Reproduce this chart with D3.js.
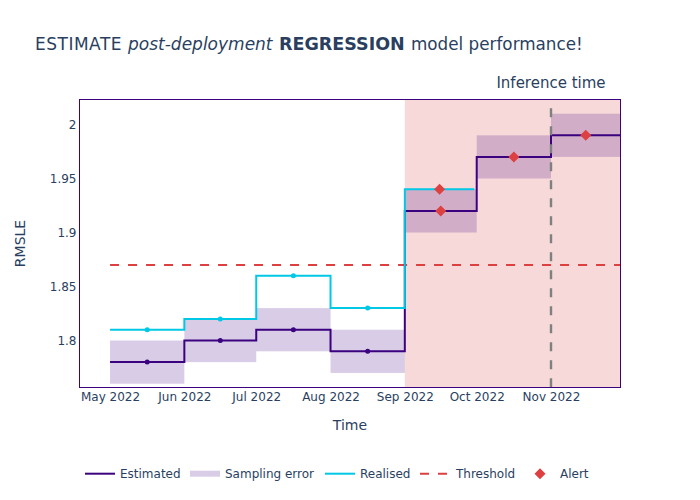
<!DOCTYPE html>
<html><head><meta charset="utf-8">
<script src="https://cdn.jsdelivr.net/npm/d3@7"></script>
<style>html,body{margin:0;padding:0;background:#fff}svg{display:block}text{font-family:"DejaVu Sans",sans-serif;fill:#2a3f5f}</style>
</head><body><svg id="c" width="700" height="500"></svg>
<script>
const periodEdges = ["2022-05-01","2022-06-01","2022-07-01","2022-08-01","2022-09-01","2022-10-01","2022-11-01","2022-11-30"];
const estimated = [1.78,1.80,1.81,1.79,1.92,1.97,1.99];
const lower = [1.76,1.78,1.79,1.77,1.90,1.95,1.97];
const upper = [1.80,1.82,1.83,1.81,1.94,1.99,2.01];
const realisedEdges = ["2022-05-01","2022-06-01","2022-07-01","2022-08-01","2022-09-01","2022-09-30"];
const realised = [1.81,1.82,1.86,1.83,1.94];
const threshold = 1.87;
const estimatedAlerts = [4,5,6];
const realisedAlerts = [4];
const alertStart = "2022-09-01";
const inferenceStart = "2022-11-01";
const inferenceTop = 2.015;
const xTicks = ["2022-05-01","2022-06-01","2022-07-01","2022-08-01","2022-09-01","2022-10-01","2022-11-01"];
const yTicks = [1.8,1.85,1.9,1.95,2];
const xDomain = ["2022-04-18T06:00:00Z","2022-11-30T00:00:00Z"];
const yDomain = [1.7565,2.02315];
const colors = {est:"#3b0280",real:"#00c8e5",red:"#dd4040",band:"#3b0280",alert:"#dd4040",grey:"#808080",text:"#2a3f5f"};
const legendItems = ["Estimated","Sampling error","Realised","Threshold","Alert"];

const d = s => new Date(s.length>10 ? s : s+"T00:00:00Z");
const L=79.5,R=620.5,T=99.5,B=387.5;
const x=d3.scaleUtc().domain(xDomain.map(d)).range([L,R]);
const y=d3.scaleLinear().domain(yDomain).range([B,T]);
const svg=d3.select("#c");
const mid=(a,b)=>new Date((d(a).getTime()+d(b).getTime())/2);

// alert region
svg.append("rect").attr("x",x(d(alertStart))).attr("y",T).attr("width",R-x(d(alertStart))).attr("height",B-T)
  .attr("fill",colors.alert).attr("fill-opacity",0.2);
// sampling bands
svg.append("g").selectAll("rect").data(estimated).join("rect")
  .attr("x",(v,i)=>x(d(periodEdges[i]))).attr("width",(v,i)=>x(d(periodEdges[i+1]))-x(d(periodEdges[i])))
  .attr("y",(v,i)=>y(upper[i])).attr("height",(v,i)=>y(lower[i])-y(upper[i]))
  .attr("fill",colors.band).attr("fill-opacity",0.2);
// threshold
const line=d3.line().x(p=>x(p[0])).y(p=>y(p[1]));
svg.append("path").attr("d",line([[d(periodEdges[0]),threshold],[d(xDomain[1]),threshold]]))
  .attr("fill","none").attr("stroke",colors.red).attr("stroke-width",2).attr("stroke-dasharray","9,9");
// step lines
const steps=(vals,edges)=>vals.flatMap((v,i)=>[[d(edges[i]),v],[d(edges[i+1]),v]]);
svg.append("path").attr("d",line(steps(estimated,periodEdges))).attr("fill","none").attr("stroke",colors.est).attr("stroke-width",2);
svg.append("path").attr("d",line(steps(realised,realisedEdges))).attr("fill","none").attr("stroke",colors.real).attr("stroke-width",2);
// inference marker
svg.append("path").attr("d",line([[d(inferenceStart),inferenceTop],[d(inferenceStart),yDomain[0]]]))
  .attr("fill","none").attr("stroke",colors.grey).attr("stroke-width",2.4).attr("stroke-dasharray","9,9");
// period dots
const dots=(vals,edges,c)=>svg.append("g").selectAll("circle").data(vals).join("circle")
  .attr("cx",(v,i)=>x(mid(edges[i],edges[i+1]))).attr("cy",v=>y(v)).attr("r",2.5).attr("fill",c);
dots(estimated,periodEdges,colors.est);
dots(realised,realisedEdges,colors.real);
// alerts
const diamondPath="M-5.5,0L0,-5.5L5.5,0L0,5.5Z";
const alerts=(idx,vals,edges)=>svg.append("g").selectAll("path").data(idx).join("path")
  .attr("d",diamondPath).attr("fill",colors.alert)
  .attr("transform",i=>`translate(${x(mid(edges[i],edges[i+1]))},${y(vals[i])})`);
alerts(realisedAlerts,realised,realisedEdges);
alerts(estimatedAlerts,estimated,periodEdges);
// frame
svg.append("rect").attr("x",L).attr("y",T).attr("width",R-L).attr("height",B-T).attr("fill","none").attr("stroke",colors.est).attr("stroke-width",1);
// axes
const xAxis=d3.axisBottom(x).tickValues(xTicks.map(d)).tickSize(0).tickPadding(5).tickFormat(d3.utcFormat("%b %Y"));
const gx=svg.append("g").attr("transform",`translate(0,${B})`).call(xAxis);
const yAxis=d3.axisLeft(y).tickValues(yTicks).tickSize(0).tickPadding(3).tickFormat(d3.format("~g"));
const gy=svg.append("g").attr("transform",`translate(${L},0)`).call(yAxis);
for(const g of [gx,gy]){g.select(".domain").remove();g.selectAll("text").style("font-size","12px").style("font-family",'"DejaVu Sans",sans-serif').attr("fill",colors.text);}
// titles
const t=svg.append("text").attr("y",50).style("font-size","17px");
t.append("tspan").attr("x",35).style("letter-spacing","0.5px").text("ESTIMATE");
t.append("tspan").attr("x",128).style("font-style","italic").text("post-deployment");
t.append("tspan").attr("x",279).style("font-weight","bold").style("font-size","17.5px").text("REGRESSION");
t.append("tspan").attr("x",411).style("font-size","16.8px").text("model performance!");
svg.append("text").attr("x",551).attr("y",88).attr("text-anchor","middle").style("font-size","15px").text("Inference time");
svg.append("text").attr("x",350).attr("y",430).attr("text-anchor","middle").style("font-size","14px").text("Time");
svg.append("text").attr("transform","translate(25,243.5) rotate(-90)").attr("text-anchor","middle").style("font-size","14px").text("RMSLE");
// legend
const ly=473.7;
const lg=svg.append("g");
const swatchX=[85,190,325,420];
lg.append("line").attr("x1",swatchX[0]).attr("x2",swatchX[0]+30).attr("y1",ly).attr("y2",ly).attr("stroke",colors.est).attr("stroke-width",2);
lg.append("rect").attr("x",swatchX[1]).attr("y",ly-3).attr("width",30).attr("height",6).attr("fill",colors.band).attr("fill-opacity",0.2);
lg.append("line").attr("x1",swatchX[2]).attr("x2",swatchX[2]+30).attr("y1",ly).attr("y2",ly).attr("stroke",colors.real).attr("stroke-width",2);
lg.append("line").attr("x1",swatchX[3]).attr("x2",swatchX[3]+30).attr("y1",ly).attr("y2",ly).attr("stroke",colors.red).attr("stroke-width",2).attr("stroke-dasharray","9,9");
lg.append("path").attr("d",diamondPath).attr("fill",colors.alert).attr("transform",`translate(540,${ly})`);
const textX=[120,225,360,456,560];
lg.selectAll("text").data(legendItems).join("text").attr("x",(v,i)=>textX[i]).attr("y",ly+4).style("font-size","12px").text(v=>v);
</script></body></html>
